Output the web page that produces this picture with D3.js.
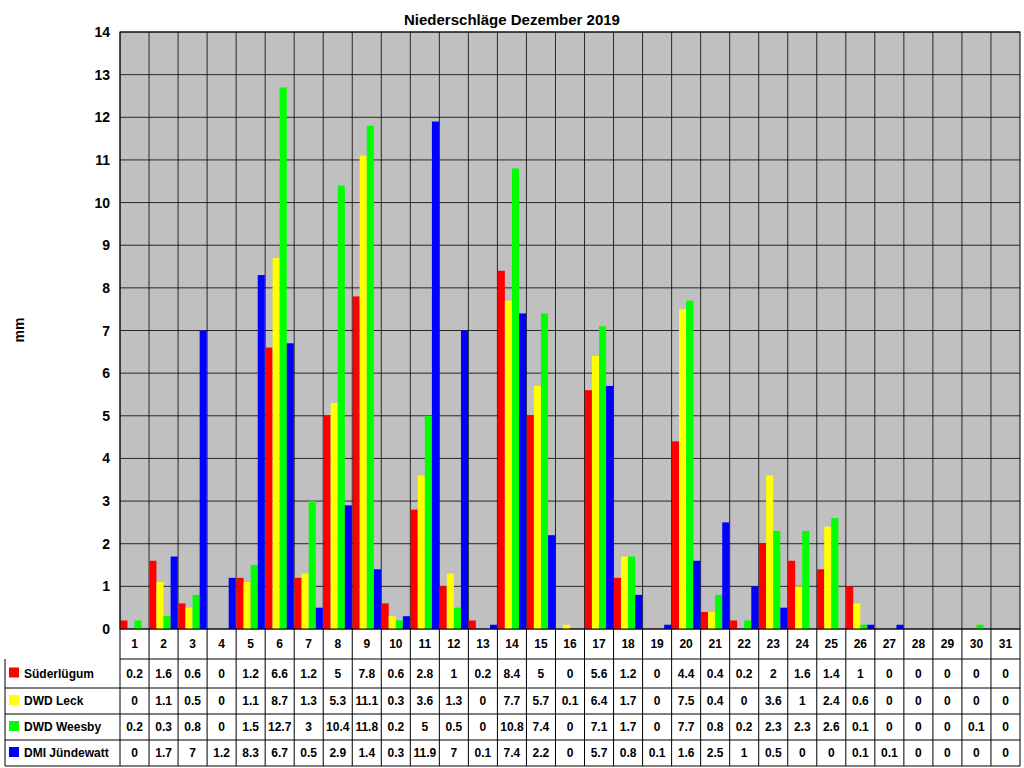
<!DOCTYPE html><html><head><meta charset="utf-8"><script src="https://cdn.jsdelivr.net/npm/d3@7"></script>
<style>body{margin:0;background:#fff}text{font-family:Arial,"Liberation Sans",sans-serif}</style></head><body>
<svg id="c" width="1024" height="768"></svg>
<script>
const days=d3.range(1,32).map(String);
const seriesNames=["Süderlügum","DWD Leck","DWD Weesby","DMI Jündewatt"];
const colors=["#ff0000","#ffff00","#00ff00","#0000ff"];
const suederluegum=[0.2,1.6,0.6,0,1.2,6.6,1.2,5,7.8,0.6,2.8,1,0.2,8.4,5,0,5.6,1.2,0,4.4,0.4,0.2,2,1.6,1.4,1,0,0,0,0,0];
const leck=[0,1.1,0.5,0,1.1,8.7,1.3,5.3,11.1,0.3,3.6,1.3,0,7.7,5.7,0.1,6.4,1.7,0,7.5,0.4,0,3.6,1,2.4,0.6,0,0,0,0,0];
const weesby=[0.2,0.3,0.8,0,1.5,12.7,3,10.4,11.8,0.2,5,0.5,0,10.8,7.4,0,7.1,1.7,0,7.7,0.8,0.2,2.3,2.3,2.6,0.1,0,0,0,0.1,0];
const juendewatt=[0,1.7,7,1.2,8.3,6.7,0.5,2.9,1.4,0.3,11.9,7,0.1,7.4,2.2,0,5.7,0.8,0.1,1.6,2.5,1,0.5,0,0,0.1,0.1,0,0,0,0];
const series=[suederluegum,leck,weesby,juendewatt];
const yTicks=d3.range(0,15);
const svg=d3.select("#c");
const L=120,R=1020,T=32,B=629;
const x=d3.scaleBand().domain(days).range([L,R]);
const y=d3.scaleLinear().domain([0,14]).range([B,T]);
const xs=d3.scaleBand().domain(d3.range(4)).range([0,x.bandwidth()]).paddingOuter(0.05);
svg.append("rect").attr("x",L).attr("y",T).attr("width",R-L).attr("height",B-T).attr("fill","#c0c0c0");
svg.selectAll(".hg").data(yTicks).join("line").attr("x1",L).attr("x2",R).attr("y1",d=>y(d)).attr("y2",d=>y(d)).attr("stroke","#000").attr("stroke-width",0.8);
svg.selectAll(".vg").data(days).join("line").attr("x1",d=>x(d)).attr("x2",d=>x(d)).attr("y1",T).attr("y2",B).attr("stroke","#000").attr("stroke-width",0.8);
series.forEach((s,i)=>{
 svg.append("g").selectAll("rect").data(s).join("rect")
  .attr("x",(d,j)=>x(days[j])+xs(i)).attr("width",xs.bandwidth())
  .attr("y",d=>y(d)).attr("height",d=>B-y(d)).attr("fill",colors[i]);
});
svg.append("rect").attr("x",L).attr("y",T).attr("width",R-L).attr("height",B-T).attr("fill","none").attr("stroke","#000");
svg.selectAll(".yl").data(yTicks).join("text").attr("x",110).attr("y",d=>y(d)+5).attr("text-anchor","end").attr("font-size",14).attr("font-weight","bold").text(d=>d);
svg.append("text").attr("x",512).attr("y",25).attr("text-anchor","middle").attr("font-size",15).attr("font-weight","bold").text("Niederschläge Dezember 2019");
svg.append("text").attr("transform","translate(24,330) rotate(-90)").attr("text-anchor","middle").attr("font-size",14).attr("font-weight","bold").text("mm");
// table
const rowY=[629,659,688,714,740,766];
const tb=svg.append("g");
tb.selectAll(".dl").data(days).join("text").attr("x",d=>x(d)+x.bandwidth()/2).attr("y",648).attr("text-anchor","middle").attr("font-size",12).attr("font-weight","bold").text(d=>d);
series.forEach((s,i)=>{
 const yc=(rowY[i+1]+rowY[i+2])/2+4;
 tb.append("g").selectAll("text").data(s).join("text").attr("x",(d,j)=>x(days[j])+x.bandwidth()/2).attr("y",yc).attr("text-anchor","middle").attr("font-size",12).attr("font-weight","bold").text(d=>d);
 tb.append("rect").attr("x",9).attr("y",yc-10).attr("width",10).attr("height",10).attr("fill",colors[i]);
 tb.append("text").attr("x",24).attr("y",yc).attr("font-size",12).attr("font-weight","bold").text(seriesNames[i]);
});
for(let k=1;k<rowY.length;k++) tb.append("line").attr("x1",k==1?L:5).attr("x2",R).attr("y1",rowY[k]).attr("y2",rowY[k]).attr("stroke","#000");
tb.append("line").attr("x1",5).attr("x2",5).attr("y1",rowY[1]).attr("y2",rowY[5]).attr("stroke","#000");
tb.selectAll(".tv").data(days.concat(["end"])).join("line").attr("x1",d=>d=="end"?R:x(d)).attr("x2",d=>d=="end"?R:x(d)).attr("y1",B).attr("y2",rowY[5]).attr("stroke","#000");
</script></body></html>
